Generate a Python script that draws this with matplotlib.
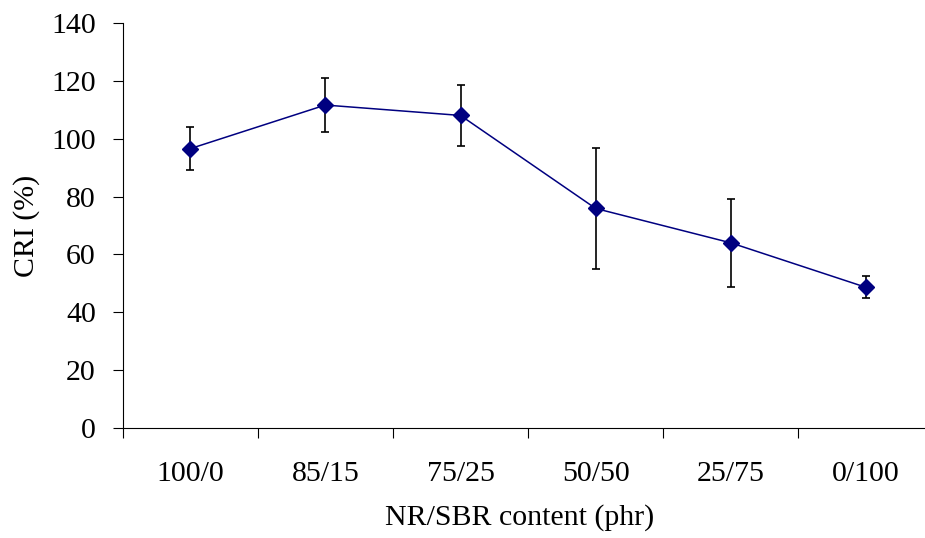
import matplotlib
matplotlib.use('Agg')
import matplotlib.pyplot as plt
import numpy as np

# NR/SBR 比例与 CRI 数据
categories = ['100/0', '85/15', '75/25', '50/50', '25/75', '0/100']
cri = [96.6, 111.7, 108.1, 75.9, 64.0, 48.6]
cri_err = [7.5, 9.3, 10.7, 20.9, 15.3, 3.8]

plt.rcParams['font.family'] = ['Liberation Serif', 'DejaVu Serif']

fig = plt.figure(figsize=(9.25, 5.38), dpi=100)
ax = fig.add_axes([0.1326, 0.2050, 0.8766, 0.7517])

x = np.arange(len(categories))
ax.errorbar(x, cri, yerr=cri_err, fmt='none', ecolor='black', elinewidth=1.2,
            capsize=3, capthick=1.2, zorder=2)
ax.plot(x, cri, color='#000080', linewidth=1.1, marker='D', markersize=8,
        markerfacecolor='#000080', markeredgecolor='#000080', zorder=3)

ax.set_xlim(-0.5, len(categories) - 0.5)
ax.set_ylim(0, 140)
ax.set_yticks(np.arange(0, 141, 20))

# 刻度在类别边界, 标签在类别中心
ax.set_xticks(np.arange(-0.5, len(categories), 1.0))
ax.set_xticklabels([])
ax.set_xticks(x, minor=True)
ax.set_xticklabels(categories, minor=True)
ax.tick_params(axis='x', which='major', direction='out', length=7.2, width=0.8)
ax.tick_params(axis='x', which='minor', length=0, pad=24, labelsize=21.5)
ax.tick_params(axis='y', direction='out', length=7.2, width=0.8, pad=12, labelsize=21.5)

for s in ['top', 'right']:
    ax.spines[s].set_visible(False)
for s in ['left', 'bottom']:
    ax.spines[s].set_linewidth(0.8)

ax.set_ylabel('CRI (%)', fontsize=21.5)
ax.yaxis.set_label_coords(-0.102, 0.5)
ax.set_xlabel('NR/SBR content (phr)', fontsize=21.5)
ax.xaxis.set_label_coords(0.49, -0.19)

plt.savefig('out.png', dpi=100)
